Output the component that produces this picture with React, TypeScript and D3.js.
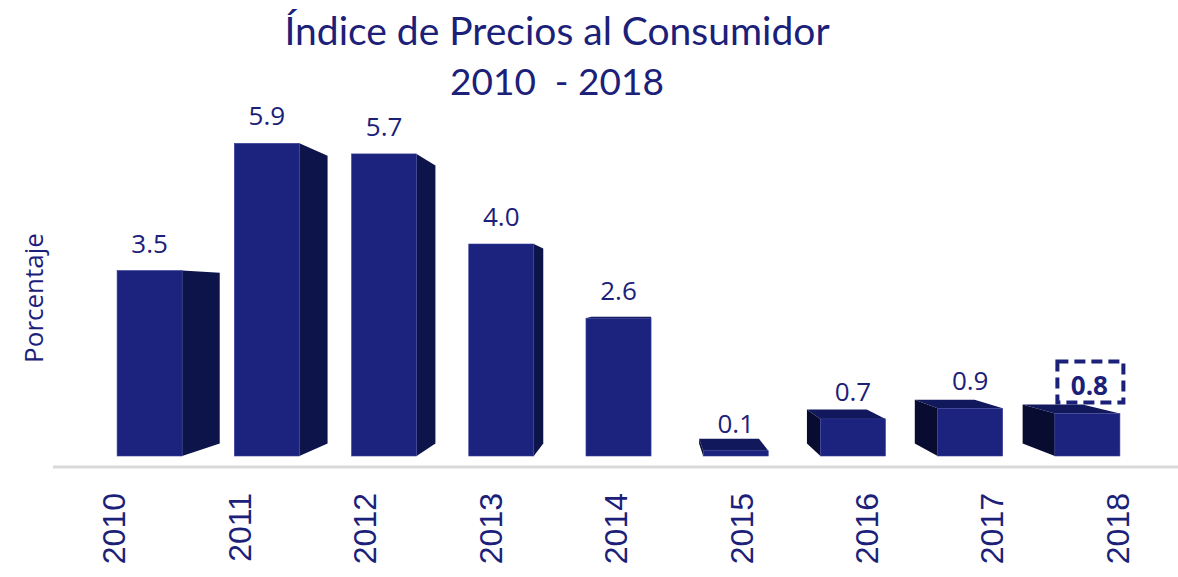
import React from 'react'
import * as d3 from 'd3'

const years = ['2010', '2011', '2012', '2013', '2014', '2015', '2016', '2017', '2018']
const ipc = [3.5, 5.9, 5.7, 4.0, 2.6, 0.1, 0.7, 0.9, 0.8]
const titleLines = ['Índice de Precios al Consumidor', '2010  - 2018']
const yLabel = 'Porcentaje'
const highlightYear = '2018'

const W = 1178
const H = 577
const base = 456
const navy = '#1B2079'

// punto de fuga de la perspectiva
const vp = { x: 652, y: 300 }
const k = 0.92

const back = (x: number, y: number) => [vp.x + (x - vp.x) * k, vp.y + (y - vp.y) * k]

const App = () => {
	const x = d3.scaleBand().domain(years).range([91, 1146]).paddingInner(0.445).paddingOuter(0.2225)
	const y = d3.scaleLinear().domain([0, 6]).range([base, base - 318])
	const line = d3.line()

	return (
		<svg width={W} height={H} style={{ position: 'absolute', left: 0, top: 0, background: '#fff' }}>
			{titleLines.map((t, i) => (
				<text
					key={t}
					x={557}
					y={45 + i * 50}
					textAnchor="middle"
					fill={navy}
					style={{ font: `${i === 0 ? 39 : 37}px Lato`, whiteSpace: 'pre' }}
				>
					{t}
				</text>
			))}

			<text
				transform="translate(43,298) rotate(-90)"
				textAnchor="middle"
				fill={navy}
				style={{ font: '26px "Open Sans"' }}
			>
				{yLabel}
			</text>

			{years.map((yr, i) => {
				const x0 = x(yr)!
				const x1 = x0 + x.bandwidth()
				const yt = y(ipc[i])
				const [bx0, byt] = back(x0, yt)
				const [bx1] = back(x1, yt)
				const [, byb] = back(x0, base)
				const faces = []
				if (x1 < vp.x) {
					faces.push(
						<path key="s" d={line([[x1, yt], [bx1, byt], [bx1, byb], [x1, base]])! + 'Z'} fill="#0C144A" />
					)
				}
				if (x0 > vp.x) {
					faces.push(
						<path key="s" d={line([[x0, yt], [bx0, byt], [bx0, byb], [x0, base]])! + 'Z'} fill="#080C30" />
					)
				}
				if (yt > vp.y) {
					faces.push(
						<path key="t" d={line([[x0, yt], [bx0, byt], [bx1, byt], [x1, yt]])! + 'Z'} fill="#12185C" />
					)
				}
				const cx = x0 + x.bandwidth() / 2
				const lx = vp.x + (cx - vp.x) * 1.07
				const hl = yr === highlightYear
				return (
					<g key={yr}>
						{faces}
						<rect x={x0} y={yt} width={x1 - x0} height={base - yt} fill="#1B237E" stroke="#3A4296" strokeWidth={0.6} />
						{hl && (
							<rect
								x={cx - 30}
								y={yt - 52}
								width={66}
								height={41}
								fill="none"
								stroke={navy}
								strokeWidth={4}
								strokeDasharray="11 6"
							/>
						)}
						<text
							x={cx + (hl ? 2 : 0)}
							y={yt - (hl ? 19 : 18)}
							textAnchor="middle"
							fill={navy}
							style={{ font: `${hl ? 'bold ' : ''}26px "Open Sans"` }}
						>
							{ipc[i].toFixed(1)}
						</text>
						<text
							transform={`translate(${lx + 11},493) rotate(-90)`}
							textAnchor="end"
							fill={navy}
							style={{ font: '32px "Liberation Sans"' }}
						>
							{yr}
						</text>
					</g>
				)
			})}

			<line x1={53} x2={W} y1={467} y2={467} stroke="#D9D9D9" strokeWidth={3} />
		</svg>
	)
}

export default App
